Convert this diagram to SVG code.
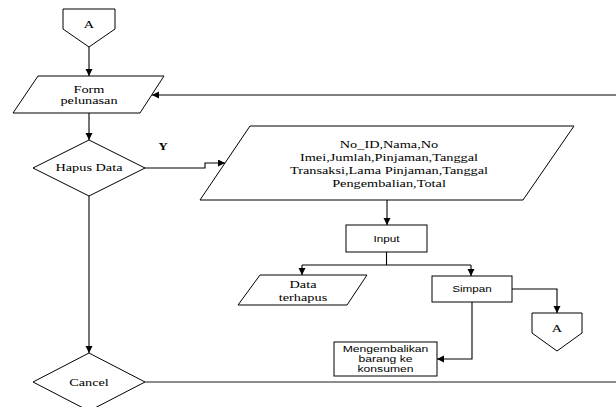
<svg xmlns="http://www.w3.org/2000/svg" width="616" height="407" viewBox="0 0 616 407">
<style>
.s{fill:#fff;stroke:#000;stroke-width:1}
.c{fill:none;stroke:#000;stroke-width:1.1}
.g{fill:none;stroke:#666;stroke-width:1.6}
.t{font-family:"Liberation Serif","Times New Roman",serif;font-size:11px;fill:#000;text-anchor:middle}
.a{font-family:"Liberation Sans",Arial,sans-serif;font-size:9px;fill:#000;text-anchor:middle}
.b{font-weight:bold}
</style>
<defs>
<marker id="ar" markerUnits="userSpaceOnUse" markerWidth="8" markerHeight="8" refX="7" refY="3.5" orient="auto">
<path d="M0,0 L7,3.5 L0,7 Z" fill="#000"/>
</marker>
</defs>
<g id="connectors">
<path class="c" d="M89,47 V76" marker-end="url(#ar)"/>
<path class="c" d="M616,95 H152" marker-end="url(#ar)"/>
<path class="c" d="M89,113 V140" marker-end="url(#ar)"/>
<path class="c" d="M143,168 H205 V163 H225" marker-end="url(#ar)"/>
<path class="c" d="M89,196 V353" marker-end="url(#ar)"/>
<path class="c" d="M387,200 V225" marker-end="url(#ar)"/>
<path class="c" d="M386.5,252 V265"/>
<path class="c" d="M302,265 H471"/>
<path class="c" d="M302,265 V275" marker-end="url(#ar)"/>
<path class="c" d="M471,265 V276" marker-end="url(#ar)"/>
<path class="c" d="M512,289 H557 V313" marker-end="url(#ar)"/>
<path class="c" d="M472,302 V359 H437" marker-end="url(#ar)"/>
<path class="g" d="M145,382 H616"/>
<text class="t b" transform="translate(163,150) scale(1.15,1)">Y</text>
</g>
<g id="connector-a-top">
<path class="s" d="M63,9 H115 V29 L89,47 L63,29 Z"/>
<text class="t" transform="translate(89,27.5) scale(1.3,1)">A</text>
</g>
<g id="form-pelunasan">
<path class="s" d="M38,76 H164 L140,113 H13 Z"/>
<text class="t" transform="translate(89,92.8) scale(1.3,1)">Form</text>
<text class="t" transform="translate(89,104) scale(1.3,1)">pelunasan</text>
</g>
<g id="hapus-data">
<path class="s" d="M89,140 L145,168 L89,196 L33,168 Z"/>
<text class="t" transform="translate(89,171) scale(1.3,1)">Hapus Data</text>
</g>
<g id="data-input">
<path class="s" d="M250,126 H574 L523,200 H200 Z"/>
<text class="t" transform="translate(389,148.3) scale(1.3,1)">No_ID,Nama,No</text>
<text class="t" transform="translate(389,161) scale(1.3,1)">Imei,Jumlah,Pinjaman,Tanggal</text>
<text class="t" transform="translate(389,173.7) scale(1.3,1)">Transaksi,Lama Pinjaman,Tanggal</text>
<text class="t" transform="translate(389,186.5) scale(1.3,1)">Pengembalian,Total</text>
</g>
<g id="input">
<rect class="s" x="346" y="225" width="81" height="27"/>
<text class="a" transform="translate(386.5,241.5) scale(1.3,1)">Input</text>
</g>
<g id="data-terhapus">
<path class="s" d="M260,275 H367 L347,305 H238 Z"/>
<text class="t" transform="translate(303,287.5) scale(1.3,1)">Data</text>
<text class="t" transform="translate(303,300.5) scale(1.3,1)">terhapus</text>
</g>
<g id="simpan">
<rect class="s" x="432" y="276" width="80" height="26"/>
<text class="a" transform="translate(472,292) scale(1.3,1)">Simpan</text>
</g>
<g id="connector-a-bottom">
<path class="s" d="M532,313 H582 V333 L557,351 L532,333 Z"/>
<text class="t" transform="translate(557,331.5) scale(1.3,1)">A</text>
</g>
<g id="mengembalikan">
<rect class="s" x="334" y="342" width="103" height="34"/>
<text class="a" transform="translate(385.5,351.8) scale(1.35,1)">Mengembalikan</text>
<text class="a" transform="translate(385.5,361.8) scale(1.35,1)">barang ke</text>
<text class="a" transform="translate(385.5,371.8) scale(1.35,1)">konsumen</text>
</g>
<g id="cancel">
<path class="s" d="M89,353 L145,382 L89,411 L33,382 Z"/>
<text class="t" transform="translate(89,385.7) scale(1.3,1)">Cancel</text>
</g>
</svg>
